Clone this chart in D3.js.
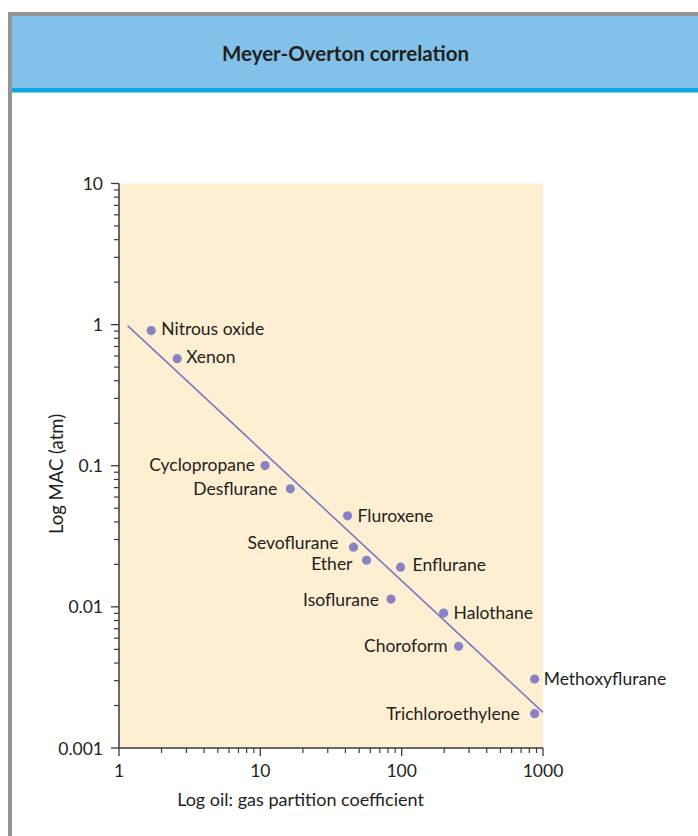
<!DOCTYPE html>
<html><head><meta charset="utf-8">
<script src="https://cdn.jsdelivr.net/npm/d3@7"></script>
<style>
html,body{margin:0;padding:0;background:#fff;}
svg{display:block;}
text{font-family:Lato,"Open Sans",sans-serif;fill:#231f20;}
</style></head>
<body>
<svg id="chart" width="698" height="836"></svg>
<script>
const title = "Meyer-Overton correlation";
const xLabel = "Log oil: gas partition coefficient";
const yLabel = "Log MAC (atm)";

const agents = ["Nitrous oxide","Xenon","Cyclopropane","Desflurane","Fluroxene","Sevoflurane","Ether","Enflurane","Isoflurane","Halothane","Choroform","Methoxyflurane","Trichloroethylene"];
const oilGas = [1.69, 2.58, 10.8, 16.3, 41.4, 45.6, 56.4, 98.2, 84.0, 198, 253, 873, 873];
const mac    = [0.907, 0.574, 0.1003, 0.0686, 0.0442, 0.0265, 0.0214, 0.0191, 0.01135, 0.00904, 0.00525, 0.00308, 0.00175];
const labelSide = ["right","right","left","left","right","left","left","right","left","right","left","right","left"];

const fitX = [1.15, 1000];
const fitY = [0.984, 0.00179];

const xTickValues = [1, 10, 100, 1000];
const xTickLabels = ["1", "10", "100", "1000"];
const yTickValues = [0.001, 0.01, 0.1, 1, 10];
const yTickLabels = ["0.001", "0.01", "0.1", "1", "10"];

// label placement tweaks (layout only): [horizontal gap, vertical nudge]
const labelNudge = {
  "Nitrous oxide":[10,-2], "Xenon":[9,-2], "Cyclopropane":[10,-1], "Desflurane":[13,0],
  "Fluroxene":[10,0], "Sevoflurane":[15,-5], "Ether":[14,3], "Enflurane":[12,-3],
  "Isoflurane":[12,0], "Halothane":[10,-1], "Choroform":[11,-1], "Methoxyflurane":[9,-1],
  "Trichloroethylene":[15,0]
};

const svg = d3.select("#chart");
const FS = 17.5;

// frame
svg.append("rect").attr("x",8).attr("y",12).attr("width",690).attr("height",4).attr("fill","#939598");
svg.append("rect").attr("x",8).attr("y",12).attr("width",4).attr("height",824).attr("fill","#939598");
svg.append("rect").attr("x",12).attr("y",16).attr("width",686).attr("height",72).attr("fill","#82c1ea");
svg.append("rect").attr("x",12).attr("y",88).attr("width",686).attr("height",4.5).attr("fill","#0aa7e1");
svg.append("text").attr("x",345.5).attr("y",53).attr("text-anchor","middle").attr("dominant-baseline","central")
  .attr("font-size",20.5).attr("font-weight","bold").text(title);

const x = d3.scaleLog().domain([1,1000]).range([119,543]);
const y = d3.scaleLog().domain([0.001,10]).range([748,183.5]);

svg.append("rect").attr("x",x(1)).attr("y",y(10)).attr("width",x(1000)-x(1)).attr("height",y(0.001)-y(10)).attr("fill","#feefd2");

const axisColor = "#3a3a3a";
// y axis
const yMinor = y.ticks().filter(v => !yTickValues.some(t => Math.abs(t - v)/t < 1e-9));
const gy = svg.append("g");
gy.append("line").attr("x1",x(1)).attr("x2",x(1)).attr("y1",y(10)).attr("y2",y(0.001)).attr("stroke",axisColor).attr("stroke-width",1.5);
gy.selectAll(".ymaj").data(yTickValues).join("line").attr("x1",x(1)-8).attr("x2",x(1)).attr("y1",d=>y(d)).attr("y2",d=>y(d)).attr("stroke",axisColor).attr("stroke-width",1.3);
gy.selectAll(".ymin").data(yMinor).join("line").attr("x1",x(1)-5).attr("x2",x(1)).attr("y1",d=>y(d)).attr("y2",d=>y(d)).attr("stroke",axisColor).attr("stroke-width",1.2);
gy.selectAll(".ylab").data(yTickValues).join("text").attr("x",x(1)-16).attr("y",d=>y(d)).attr("text-anchor","end").attr("dominant-baseline","central").attr("font-size",FS).text((d,i)=>yTickLabels[i]);

// x axis
const xMinor = x.ticks().filter(v => !xTickValues.some(t => Math.abs(t - v)/t < 1e-9));
const gx = svg.append("g");
gx.append("line").attr("x1",x(1)).attr("x2",x(1000)).attr("y1",y(0.001)).attr("y2",y(0.001)).attr("stroke",axisColor).attr("stroke-width",1.5);
gx.selectAll(".xmaj").data(xTickValues).join("line").attr("x1",d=>x(d)).attr("x2",d=>x(d)).attr("y1",y(0.001)).attr("y2",y(0.001)+8).attr("stroke",axisColor).attr("stroke-width",1.3);
gx.selectAll(".xmin").data(xMinor).join("line").attr("x1",d=>x(d)).attr("x2",d=>x(d)).attr("y1",y(0.001)).attr("y2",y(0.001)+5).attr("stroke",axisColor).attr("stroke-width",1.2);
gx.selectAll(".xlab").data(xTickValues).join("text").attr("x",d=>x(d)).attr("y",y(0.001)+22).attr("text-anchor","middle").attr("dominant-baseline","central").attr("font-size",FS).text((d,i)=>xTickLabels[i]);

svg.append("text").attr("x",300.5).attr("y",799).attr("text-anchor","middle").attr("dominant-baseline","central").attr("font-size",18).text(xLabel);
svg.append("text").attr("transform","translate(55.5,474) rotate(-90)").attr("text-anchor","middle").attr("dominant-baseline","central").attr("font-size",18.5).text(yLabel);

// fit line
svg.append("line").attr("x1",x(fitX[0])).attr("y1",y(fitY[0])).attr("x2",x(fitX[1])).attr("y2",y(fitY[1])).attr("stroke","#7b78c2").attr("stroke-width",1.6);

// points
const data = agents.map((a,i)=>({name:a, ox:oilGas[i], m:mac[i], side:labelSide[i]}));
svg.selectAll(".pt").data(data).join("circle").attr("cx",d=>x(d.ox)).attr("cy",d=>y(d.m)).attr("r",4.6).attr("fill","#8883c5");
svg.selectAll(".lbl").data(data).join("text")
  .attr("x",d=>x(d.ox) + (d.side==="right"?1:-1)*labelNudge[d.name][0])
  .attr("y",d=>y(d.m) + labelNudge[d.name][1])
  .attr("text-anchor",d=>d.side==="right"?"start":"end")
  .attr("dominant-baseline","central")
  .attr("font-size",FS).text(d=>d.name);
</script>
</body></html>
